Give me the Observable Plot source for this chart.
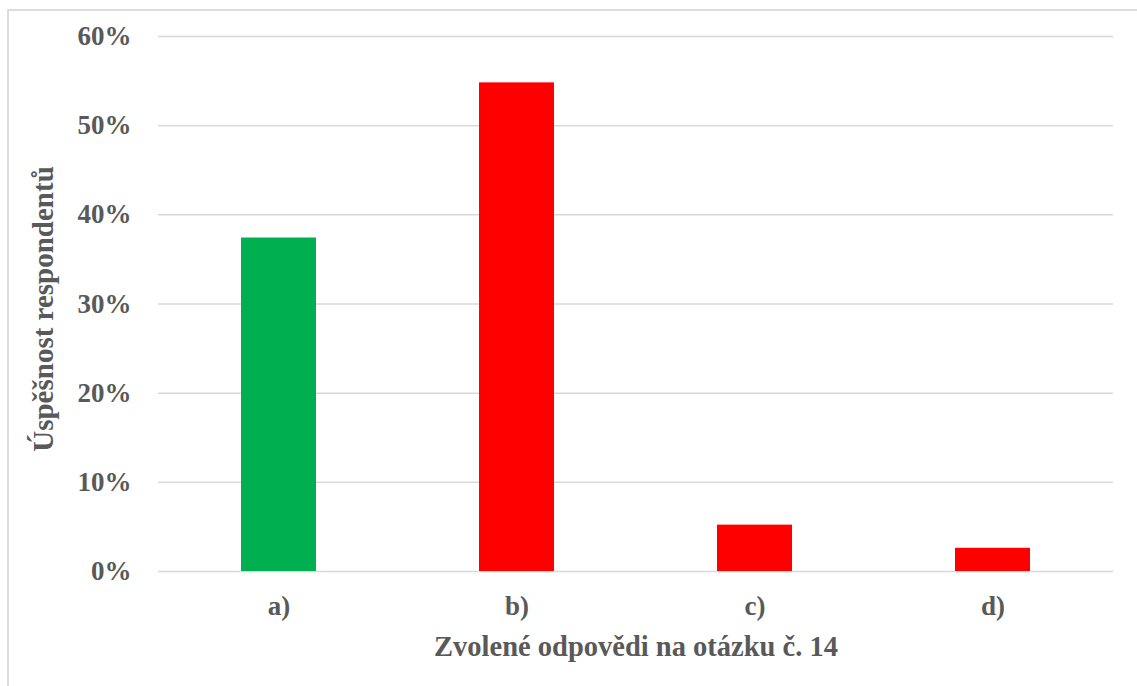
<!DOCTYPE html>
<html>
<head>
<meta charset="utf-8">
<script src="https://cdn.jsdelivr.net/npm/d3@7"></script>
<script src="https://cdn.jsdelivr.net/npm/@observablehq/plot@0.6"></script>
<style>
  html, body { margin: 0; padding: 0; background: #fff; width: 1137px; height: 686px; overflow: hidden; }
  #frame { position: absolute; left: 7px; top: 9px; width: 1140px; height: 690px; border: 2px solid #dcdcdc; box-sizing: border-box; }
  #chart { position: absolute; left: 0; top: 0; }
</style>
</head>
<body>
<div id="frame"></div>
<div id="chart"></div>
<script>
const categories = ["a)", "b)", "c)", "d)"];
const values = [0.374, 0.548, 0.052, 0.026];
const barColors = ["#00b050", "#ff0000", "#ff0000", "#ff0000"];
const yTicks = [0, 0.1, 0.2, 0.3, 0.4, 0.5, 0.6];
const xTitle = "Zvolené odpovědi na otázku č. 14";
const yTitle = "Úspěšnost respondentů";

const data = categories.map((c, i) => ({cat: c, value: values[i], color: barColors[i]}));

const textColor = "#595959";
const fontFamily = "'Liberation Serif', 'Times New Roman', serif";

const chart = Plot.plot({
  width: 1137,
  height: 686,
  marginTop: 36,
  marginBottom: 115,
  marginLeft: 158,
  marginRight: 24,
  style: {fontFamily, fontWeight: "bold", fontSize: "27px", color: textColor, background: "transparent", overflow: "visible"},
  x: {domain: categories, paddingInner: 0.686, paddingOuter: 0.343, label: null},
  y: {domain: [0, 0.6], label: null},
  marks: [
    Plot.ruleY(yTicks, {stroke: "#d9d9d9", strokeWidth: 1.5}),
    Plot.barY(data, {x: "cat", y: "value", fill: "color"}),
    Plot.axisY(yTicks, {tickSize: 0, tickPadding: 27, tickFormat: d3.format(".0%"), fill: textColor, fontSize: 27, fontWeight: "bold", label: null}),
    Plot.axisX({tickSize: 0, tickPadding: 24, fill: textColor, fontSize: 27, fontWeight: "bold", label: null}),
    Plot.text([xTitle], {frameAnchor: "bottom", textAnchor: "middle", lineAnchor: "bottom", dy: 84, fill: textColor, fontSize: 28.5, fontWeight: "bold"}),
    Plot.text([yTitle], {frameAnchor: "left", textAnchor: "middle", lineAnchor: "bottom", rotate: -90, dx: -106, dy: 5, fill: textColor, fontSize: 29, fontWeight: "bold"})
  ]
});
document.getElementById("chart").appendChild(chart);
</script>
</body>
</html>
